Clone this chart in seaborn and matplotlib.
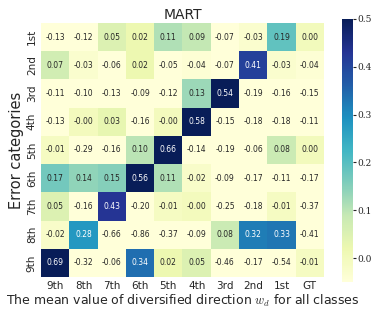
import numpy as np
import pandas as pd
import matplotlib
matplotlib.use("Agg")
import matplotlib.pyplot as plt
import seaborn as sns

# rows: error categories, columns: class directions
row_labels = ["1st", "2nd", "3rd", "4th", "5th", "6th", "7th", "8th", "9th"]
col_labels = ["9th", "8th", "7th", "6th", "5th", "4th", "3rd", "2nd", "1st", "GT"]

r1 = [-0.13, -0.12, 0.05, 0.02, 0.11, 0.09, -0.07, -0.03, 0.19, 0.00]
r2 = [0.07, -0.03, -0.06, 0.02, -0.05, -0.04, -0.07, 0.41, -0.03, -0.04]
r3 = [-0.11, -0.10, -0.13, -0.09, -0.12, 0.13, 0.54, -0.19, -0.16, -0.15]
r4 = [-0.13, -0.001, 0.03, -0.16, -0.001, 0.58, -0.15, -0.18, -0.18, -0.11]
r5 = [-0.01, -0.29, -0.16, 0.10, 0.66, -0.14, -0.19, -0.06, 0.08, 0.00]
r6 = [0.17, 0.14, 0.15, 0.56, 0.11, -0.02, -0.09, -0.17, -0.11, -0.17]
r7 = [0.05, -0.16, 0.43, -0.20, -0.01, -0.001, -0.25, -0.18, -0.01, -0.37]
r8 = [-0.02, 0.28, -0.66, -0.86, -0.37, -0.09, 0.08, 0.32, 0.33, -0.41]
r9 = [0.69, -0.32, -0.06, 0.34, 0.02, 0.05, -0.46, -0.17, -0.54, -0.01]

df = pd.DataFrame([r1, r2, r3, r4, r5, r6, r7, r8, r9],
                  index=row_labels, columns=col_labels)

sns.set_style("white")
plt.rcParams["font.family"] = ["DejaVu Sans"]
plt.rcParams["mathtext.fontset"] = "cm"

fig = plt.figure(figsize=(3.81, 3.19), dpi=100)
ax = fig.add_axes([0.1076, 0.1317, 0.7428, 0.7962])
cax = fig.add_axes([0.8976, 0.116, 0.0289, 0.8245])
hm = sns.heatmap(df, annot=True, fmt=".2f", cmap="YlGnBu", vmin=-0.05, vmax=0.5,
                 annot_kws={"size": 5.5}, ax=ax, cbar_ax=cax,
                 cbar_kws={"ticks": [0.0, 0.1, 0.2, 0.3, 0.4, 0.5]})
ax.set_title("MART", fontsize=10, pad=3)
ax.set_ylabel("Error categories", fontsize=10.5, labelpad=2)
ax.set_xlabel("The mean value of diversified direction $w_d$ for all classes", fontsize=9, labelpad=1)
ax.tick_params(axis="both", labelsize=7.5, length=2, pad=1)
ax.set_yticklabels(row_labels, rotation=90, va="center")
ax.set_xticklabels(col_labels, rotation=0)

cax.tick_params(labelsize=6.5, length=2, pad=1)
for t in cax.get_yticklabels():
    t.set_family("DejaVu Serif")
hm.collections[0].colorbar.outline.set_visible(False)

fig.savefig("out.png", dpi=100)
